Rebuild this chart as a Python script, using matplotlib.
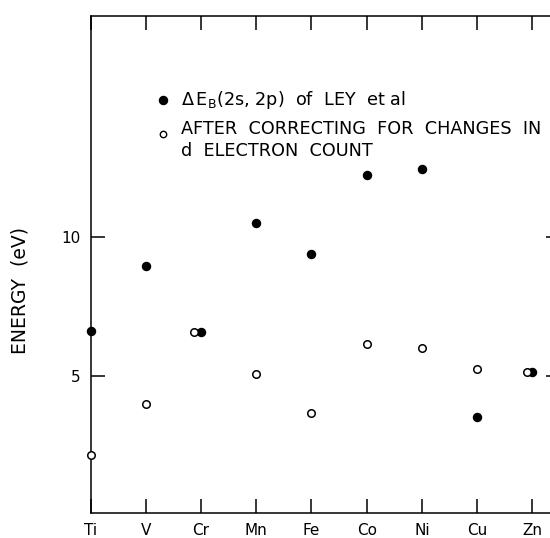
import numpy as np
import matplotlib
matplotlib.use("Agg")
import matplotlib.pyplot as plt

plt.rcParams['font.family'] = ['DejaVu Sans']
plt.rcParams['mathtext.fontset'] = 'dejavusans'
plt.rcParams['mathtext.default'] = 'regular'

elements = ["Ti", "V", "Cr", "Mn", "Fe", "Co", "Ni", "Cu", "Zn"]
ley_values = [6.63, 8.96, 6.57, 10.48, 9.37, 12.21, 12.43, 3.51, 5.14]
corrected_values = [2.15, 3.99, 6.57, 5.06, 3.66, 6.15, 5.99, 5.24, 5.14]
corrected_shift = [0, 0, -0.13, 0, 0, 0, 0, 0, -0.1]   # small sideways shift where points overlap
y_ticks = [5, 10]

W, H = 550, 538
fig = plt.figure(figsize=(W / 100, H / 100), dpi=100)
left_px, right_px, top_px, bottom_px = 90.5, 560, 15.8, 513.3
ax = fig.add_axes([left_px / W, 1 - bottom_px / H, (right_px - left_px) / W, (bottom_px - top_px) / H])

x = np.arange(len(elements))
ax.plot(x, ley_values, 'o', color='black', markersize=5.8, clip_on=False, zorder=3)
ax.plot(x + np.array(corrected_shift), corrected_values, 'o', markerfacecolor='white',
        markeredgecolor='black', markeredgewidth=1.1, markersize=5.4, clip_on=False, zorder=3)

ax.set_xlim(0, 8.5)
ax.set_ylim(0.07, 17.93)
ax.set_xticks(x)
ax.set_xticklabels(elements, fontsize=11)
ax.set_yticks(y_ticks)
ax.set_yticklabels([str(v) for v in y_ticks], fontsize=11)
ax.tick_params(axis='both', direction='in', length=10, width=1.1, top=True, right=True, pad=7)
for s in ax.spines.values():
    s.set_linewidth(1.1)

fig.text(20 / W, 1 - 290 / H, "ENERGY  (eV)", rotation=90, ha='center', va='center', fontsize=13.5)

# legend
fig.lines.append(plt.Line2D([163 / W], [1 - 100 / H], marker='o', color='black', markersize=5.8,
                            linestyle='none', transform=fig.transFigure, figure=fig))
fig.lines.append(plt.Line2D([163 / W], [1 - 134 / H], marker='o', markerfacecolor='white',
                            markeredgecolor='black', markeredgewidth=1.0, markersize=4.6,
                            linestyle='none', transform=fig.transFigure, figure=fig))
fig.text(181 / W, 1 - 100 / H, r"$\Delta\,$E$_{B}$(2s, 2p)  of  LEY  et al", ha='left', va='center', fontsize=12.7)
fig.text(181 / W, 1 - 129 / H, "AFTER  CORRECTING  FOR  CHANGES  IN", ha='left', va='center', fontsize=12.7)
fig.text(181 / W, 1 - 151 / H, "d  ELECTRON  COUNT", ha='left', va='center', fontsize=12.7)

fig.savefig("out.png", dpi=100)
